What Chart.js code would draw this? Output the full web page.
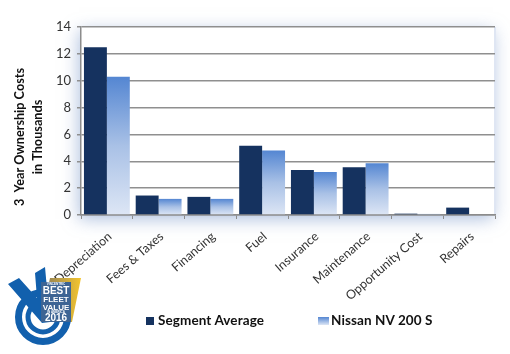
<!DOCTYPE html>
<html>
<head>
<meta charset="utf-8">
<style>
html,body{margin:0;padding:0;background:#fff}
#wrap{position:relative;width:510px;height:354px;overflow:hidden}
.lg{position:absolute;top:312px;font:bold 13.5px Lato,"Open Sans",sans-serif;color:#111;white-space:nowrap;letter-spacing:.1px}
.sw{position:absolute;top:317px;height:8px}
</style>
<script src="https://cdn.jsdelivr.net/npm/chart.js@4"></script>
</head>
<body>
<div id="wrap">
<canvas id="myChart" width="510" height="354"></canvas>
<div class="sw" style="left:146px;width:8px;background:#15325f"></div>
<div class="lg" id="lg0" style="left:158px"></div>
<div class="sw" style="left:318px;width:11px;background:linear-gradient(#5486d2,#dde6f5)"></div>
<div class="lg" id="lg1" style="left:331px"></div>
</div>
<script>
var categories=['Depreciation','Fees & Taxes','Financing','Fuel','Insurance','Maintenance','Opportunity Cost','Repairs'];
var segmentAverage=[12.5,1.45,1.35,5.15,3.35,3.55,0.1,0.55];
var nissan=[10.3,1.2,1.2,4.8,3.2,3.85,0.08,0];
var yTicks=[0,2,4,6,8,10,12,14];
var seriesNames=['Segment Average','Nissan NV 200 S'];
var axisTitle=['3  Year Ownership Costs','in Thousands'];
var fontName='Lato, "Open Sans", sans-serif';

document.getElementById('lg0').textContent=seriesNames[0];
document.getElementById('lg1').textContent=seriesNames[1];

function barFill(c){
  var chart=c.chart;
  if(!chart.chartArea||!c.parsed)return '#5b8bd0';
  var y=chart.scales.y;
  var top=y.getPixelForValue(c.parsed.y),bottom=y.getPixelForValue(0);
  if(bottom-top<2)return '#9db8e0';
  var g=chart.ctx.createLinearGradient(0,top,0,bottom);
  g.addColorStop(0,'#5486d2');
  g.addColorStop(0.5,'#a9c1e6');
  g.addColorStop(1,'#dde6f5');
  return g;
}

// soft blue glow behind the plot
var glow={
  id:'glow',
  beforeDraw:function(chart){
    var ctx=chart.ctx,a=chart.chartArea;
    ctx.save();
    ctx.shadowColor='rgba(120,150,200,0.6)';
    ctx.shadowBlur=16;
    ctx.shadowOffsetX=-2;
    ctx.shadowOffsetY=4;
    ctx.fillStyle='#fff';
    ctx.fillRect(a.left,a.top,a.width,a.height);
    ctx.restore();
    ctx.strokeStyle='#dfe6f3';
    ctx.lineWidth=2;
    ctx.beginPath();
    ctx.moveTo(a.right,a.top);
    ctx.lineTo(a.right,a.bottom);
    ctx.stroke();
  }
};

// y axis title sits lower than the plot centre in the original
var yTitle={
  id:'yTitle',
  afterDraw:function(chart){
    var ctx=chart.ctx;
    ctx.save();
    ctx.fillStyle='#111';
    ctx.textAlign='center';
    ctx.font='bold 12.7px '+fontName;
    ctx.translate(0,137);
    ctx.rotate(-Math.PI/2);
    ctx.fillText(axisTitle[0],0,24);
    ctx.fillText(axisTitle[1],0,42);
    ctx.restore();
  }
};

// badge in the bottom left corner
var badge={
  id:'badge',
  afterDraw:function(chart){
    var ctx=chart.ctx;
    ctx.save();
    var g=ctx.createLinearGradient(50,0,81,0);
    g.addColorStop(0,'#a08a50');
    g.addColorStop(1,'#f4c52e');
    ctx.fillStyle=g;
    ctx.beginPath();
    ctx.moveTo(50,278);ctx.lineTo(81,278);ctx.lineTo(72,322);ctx.lineTo(41,322);
    ctx.closePath();ctx.fill();
    ctx.strokeStyle='#1260ad';
    ctx.lineWidth=7;
    ctx.beginPath();ctx.arc(43,317,24.5,0,Math.PI*2);ctx.stroke();
    ctx.lineWidth=5;
    ctx.beginPath();ctx.arc(43,317,15,0,Math.PI*2);ctx.stroke();
    ctx.fillStyle='#1260ad';
    ctx.beginPath();
    ctx.moveTo(8,284);ctx.lineTo(19,278);ctx.lineTo(37,298);ctx.lineTo(35,273);ctx.lineTo(45,267);
    ctx.lineTo(50,322);ctx.lineTo(42,323);
    ctx.closePath();ctx.fill();
    ctx.fillStyle='#3d6494';
    ctx.fillRect(41,282,30,40);
    ctx.fillStyle='#fff';
    ctx.textAlign='center';
    ctx.font='bold 3px "Liberation Sans"';
    ctx.fillText('VINCENTRIC',56,285,28);
    ctx.font='bold 10px "Liberation Sans"';
    ctx.fillText('BEST',56,294,28);
    ctx.font='bold 8px "Liberation Sans"';
    ctx.fillText('FLEET',56,302,28);
    ctx.fillText('VALUE',56,310,28);
    ctx.font='bold 3px "Liberation Sans"';
    ctx.fillText('IN AMERICA',56,313,28);
    ctx.font='bold 10px "Liberation Sans"';
    ctx.fillText('2016',56,321,28);
    ctx.restore();
  }
};

new Chart(document.getElementById('myChart'),{
  type:'bar',
  data:{
    labels:categories,
    datasets:[
      {label:seriesNames[0],data:segmentAverage,backgroundColor:'#15325f'},
      {label:seriesNames[1],data:nissan,backgroundColor:barFill}
    ]
  },
  options:{
    responsive:false,
    animation:false,
    layout:{padding:{top:27,right:15,bottom:0,left:0}},
    datasets:{bar:{categoryPercentage:0.886,barPercentage:1}},
    plugins:{
      tooltip:{enabled:false},
      legend:{display:false}
    },
    scales:{
      x:{
        afterFit:function(s){s.height=139;},
        grid:{display:true,drawOnChartArea:false,color:'#8c8c8c',tickLength:4},
        border:{color:'#8c8c8c',width:1.5},
        ticks:{autoSkip:false,maxRotation:41,minRotation:41,padding:10,labelOffset:3,color:'#333',font:{family:fontName,size:12.5}}
      },
      y:{
        min:0,max:14,
        afterFit:function(s){s.width=81;},
        afterBuildTicks:function(s){s.ticks=yTicks.map(function(v){return {value:v};});},
        grid:{color:'#8f8f8f',lineWidth:1.5,tickLength:4},
        border:{color:'#8c8c8c',width:1.5},
        ticks:{padding:6,color:'#333',font:{family:fontName,size:13}}
      }
    }
  },
  plugins:[glow,yTitle,badge]
});
</script>
</body>
</html>
